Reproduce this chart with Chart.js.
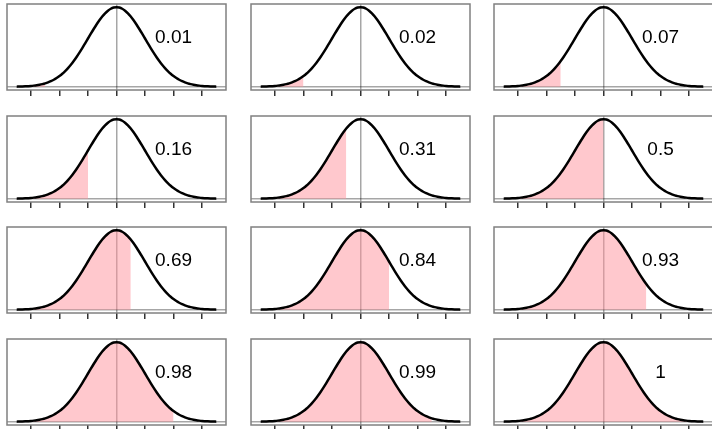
<!DOCTYPE html>
<html><head><meta charset="utf-8">
<script src="https://cdn.jsdelivr.net/npm/chart.js@4"></script>
<style>
html,body{margin:0;padding:0;background:#fff;overflow:hidden;width:712px;height:429px;}
#wrap{position:relative;width:712px;height:429px;overflow:hidden;background:#fff;}
canvas{position:absolute;}
</style></head><body><div id="wrap"></div>
<script>
// ---- data ----
const xValues = [-3.5,-3.4,-3.3,-3.2,-3.1,-3.0,-2.9,-2.8,-2.7,-2.6,-2.5,-2.4,-2.3,-2.2,-2.1,-2.0,-1.9,-1.8,-1.7,-1.6,-1.5,-1.4,-1.3,-1.2,-1.1,-1.0,-0.9,-0.8,-0.7,-0.6,-0.5,-0.4,-0.3,-0.2,-0.1,0,
  0.1,0.2,0.3,0.4,0.5,0.6,0.7,0.8,0.9,1.0,1.1,1.2,1.3,1.4,1.5,1.6,1.7,1.8,1.9,2.0,2.1,2.2,2.3,2.4,2.5,2.6,2.7,2.8,2.9,3.0,3.1,3.2,3.3,3.4,3.5];
const densityValues = [0.0009,0.0012,0.0017,0.0024,0.0033,0.0044,0.0060,0.0079,0.0104,0.0136,0.0175,0.0224,0.0283,0.0355,0.0440,0.0540,0.0656,0.0790,0.0940,0.1109,0.1295,0.1497,0.1714,0.1942,0.2179,0.2420,0.2661,0.2897,0.3123,0.3332,0.3521,0.3683,0.3814,0.3910,0.3970,0.3989,
  0.3970,0.3910,0.3814,0.3683,0.3521,0.3332,0.3123,0.2897,0.2661,0.2420,0.2179,0.1942,0.1714,0.1497,0.1295,0.1109,0.0940,0.0790,0.0656,0.0540,0.0440,0.0355,0.0283,0.0224,0.0175,0.0136,0.0104,0.0079,0.0060,0.0044,0.0033,0.0024,0.0017,0.0012,0.0009];
const cutoffs = [-2.5,-2,-1.5,-1,-0.5,0,0.5,1,1.5,2,2.5,3];
const areaLabels = ['0.01','0.02','0.07','0.16','0.31','0.5','0.69','0.84','0.93','0.98','0.99','1'];
const tickValues = [-3,-2,-1,0,1,2,3];

// ---- layout / style ----
const COL_LEFT = [7, 251, 494];
const ROW_TOP = [4, 116, 227, 339];
const BOX_W = 219, BOX_H = 86, PAD = 10, TICK_LEN = 6;
const X_MIN = -3.84, X_MAX = 3.84, Y_MIN = -0.01596, Y_MAX = 0.41486;
const LABEL_X = 2, LABEL_Y = 0.245;
const REF = 'rgba(0,0,0,0.35)';
const FILL = 'rgba(255,145,155,0.5)';

const wrap = document.getElementById('wrap');

function panelPlugin(label){
  return {
    id:'panel',
    afterDatasetsDraw(chart){
      const ctx = chart.ctx, ca = chart.chartArea;
      ctx.save();
      ctx.fillStyle = '#000';
      ctx.font = '19px "Liberation Sans", Arial, sans-serif';
      ctx.textAlign = 'center';
      ctx.textBaseline = 'middle';
      ctx.fillText(label, chart.scales.x.getPixelForValue(LABEL_X), chart.scales.y.getPixelForValue(LABEL_Y));
      ctx.strokeStyle = '#808080';
      ctx.lineWidth = 1.5;
      ctx.strokeRect(ca.left, ca.top, ca.right - ca.left, ca.bottom - ca.top);
      ctx.restore();
    }
  };
}

cutoffs.forEach((cut, i) => {
  const row = Math.floor(i / 3), col = i % 3;
  const cv = document.createElement('canvas');
  cv.width = BOX_W + 2 * PAD; cv.height = BOX_H + 2 * PAD;
  cv.style.left = (COL_LEFT[col] - PAD) + 'px';
  cv.style.top = (ROW_TOP[row] - PAD) + 'px';
  cv.style.width = cv.width + 'px'; cv.style.height = cv.height + 'px';
  wrap.appendChild(cv);

  const curvePts = xValues.map((x, k) => ({x, y: densityValues[k]}));
  const fillPts = curvePts.filter(p => p.x <= cut + 1e-9);

  new Chart(cv, {
    type: 'line',
    data: { datasets: [
      { data: curvePts, borderColor: '#000', borderWidth: 2.5, pointRadius: 0, fill: false, order: 0, cubicInterpolationMode: 'monotone' },
      { data: fillPts, borderColor: 'rgba(0,0,0,0)', borderWidth: 0, backgroundColor: FILL, pointRadius: 0, fill: 'origin', order: 1 }
    ]},
    options: {
      responsive: false, animation: false, devicePixelRatio: 1, events: [],
      layout: { autoPadding: false, padding: { left: PAD, right: PAD, top: PAD, bottom: PAD - TICK_LEN } },
      plugins: { legend: { display: false }, tooltip: { enabled: false } },
      scales: {
        x: {
          type: 'linear', min: X_MIN, max: X_MAX,
          afterBuildTicks: s => { s.ticks = tickValues.map(v => ({ value: v })); },
          afterFit: s => { s.height = TICK_LEN; },
          ticks: { display: false },
          border: { display: false },
          grid: {
            drawOnChartArea: true, drawTicks: true, tickLength: TICK_LEN,
            color: c => (c.tick && c.tick.value === 0) ? REF : 'rgba(0,0,0,0)',
            lineWidth: 1.5, tickColor: '#333', tickWidth: 1.5
          }
        },
        y: {
          type: 'linear', min: Y_MIN, max: Y_MAX,
          afterBuildTicks: s => { s.ticks = [{ value: 0 }]; },
          afterFit: s => { s.width = 0; },
          ticks: { display: false },
          border: { display: false },
          grid: { drawTicks: false, color: REF, lineWidth: 1.5 }
        }
      }
    },
    plugins: [panelPlugin(areaLabels[i])]
  });
});
</script>
</body></html>
